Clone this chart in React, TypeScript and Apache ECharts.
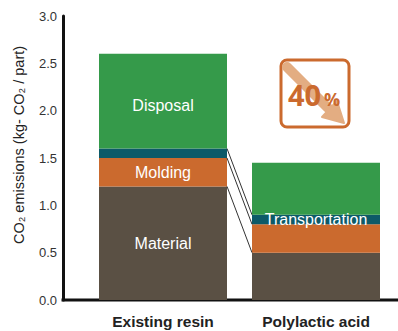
import React, { useEffect, useRef } from "react";
import * as echarts from "echarts";

const categories = ["Existing resin", "Polylactic acid"];
const material = [1.2, 0.5];
const molding = [0.3, 0.3];
const transportation = [0.1, 0.1];
const disposal = [1.0, 0.55];
const yTicks = { min: 0, max: 3, interval: 0.5 };
// Running totals joined by the thin lines between the two bars.
const connectors = [
  [material[0], material[1]],
  [material[0] + molding[0], material[1] + molding[1]],
  [material[0] + molding[0] + transportation[0], material[1] + molding[1] + transportation[1]],
];
const yTitle = "CO₂ emissions (kg- CO₂ / part)";
const reduction = "40";

const SANS = "'Liberation Sans', sans-serif";
const BAR_WIDTH = 128;

function stackedBar(name: string, values: number[], color: string, labelled: number, offset: number[] = [0, 0]) {
  return {
    name,
    type: "bar",
    stack: "total",
    barWidth: BAR_WIDTH,
    itemStyle: { color },
    data: values.map((value, i) => ({
      value,
      label: {
        show: i === labelled,
        position: "inside",
        formatter: name,
        color: "#ffffff",
        fontFamily: SANS,
        fontSize: 16,
        offset,
      },
    })),
  };
}

export default function App() {
  const ref = useRef<HTMLDivElement>(null);

  useEffect(() => {
    document.body.style.margin = "0";
    const chart = echarts.init(ref.current!, undefined, { renderer: "svg" });
    chart.setOption({
      animation: false,
      backgroundColor: "#ffffff",
      grid: { left: 86.5, width: 306, top: 16, bottom: 31 },
      xAxis: {
        type: "category",
        data: categories,
        axisLine: { show: false },
        axisTick: { show: false },
        axisLabel: {
          color: "#222222",
          fontFamily: SANS,
          fontWeight: "bold",
          fontSize: 15.5,
          margin: 13,
          interval: 0,
        },
      },
      yAxis: {
        type: "value",
        ...yTicks,
        offset: 23.5,
        name: yTitle,
        nameLocation: "middle",
        nameGap: 37,
        nameTextStyle: { color: "#222222", fontFamily: SANS, fontSize: 14.5, padding: [0, 0, 0, 26] },
        splitLine: { show: false },
        axisTick: { show: false },
        axisLine: { show: true, lineStyle: { color: "#111111", width: 3 } },
        axisLabel: {
          color: "#333333",
          fontFamily: SANS,
          fontSize: 13,
          margin: 6,
          padding: [9, 0, 0, 0],
          formatter: (v: number) => v.toFixed(1),
        },
      },
      series: [
        stackedBar("Material", material, "#5a5044", 0),
        stackedBar("Molding", molding, "#cb6a2e", 0),
        stackedBar("Transportation", transportation, "#0d5a68", 1),
        stackedBar("Disposal", disposal, "#359a4a", 0, [0, 4]),
        {
          type: "custom",
          silent: true,
          z: 5,
          data: connectors,
          renderItem: (_: unknown, api: any) => {
            const from = api.coord([0, api.value(0)]);
            const to = api.coord([1, api.value(1)]);
            return {
              type: "line",
              shape: {
                x1: from[0] + BAR_WIDTH / 2,
                y1: from[1],
                x2: to[0] - BAR_WIDTH / 2,
                y2: to[1],
              },
              style: { stroke: "#333333", lineWidth: 1 },
            };
          },
        },
      ],
      graphic: [
        // Baseline runs past the plot area on both sides.
        {
          type: "line",
          shape: { x1: 61.5, y1: 300, x2: 398, y2: 300 },
          style: { stroke: "#111111", lineWidth: 3 },
        },
        // Reduction badge.
        {
          type: "rect",
          shape: { x: 281, y: 60, width: 68, height: 67, r: 6 },
          style: { fill: "#ffffff", stroke: "#cb6a2e", lineWidth: 3 },
        },
        {
          type: "line",
          shape: { x1: 287, y1: 67, x2: 328, y2: 108 },
          style: { stroke: "#e3ad82", lineWidth: 10, lineCap: "round" },
        },
        {
          type: "polygon",
          shape: { points: [[344, 123], [322, 117], [337, 101]] },
          style: { fill: "#e3ad82", stroke: "#e3ad82", lineWidth: 2, lineJoin: "round" },
        },
        {
          type: "text",
          x: 288,
          y: 80,
          style: {
            text: reduction,
            fill: "#cb6a2e",
            font: "bold 29px 'Open Sans', sans-serif",
          },
        },
        {
          type: "text",
          x: 324,
          y: 90,
          style: {
            text: "%",
            fill: "#cb6a2e",
            font: "bold 18px 'Open Sans', sans-serif",
          },
        },
      ],
    });
    return () => chart.dispose();
  }, []);

  return <div ref={ref} style={{ width: 398, height: 331 }} />;
}
